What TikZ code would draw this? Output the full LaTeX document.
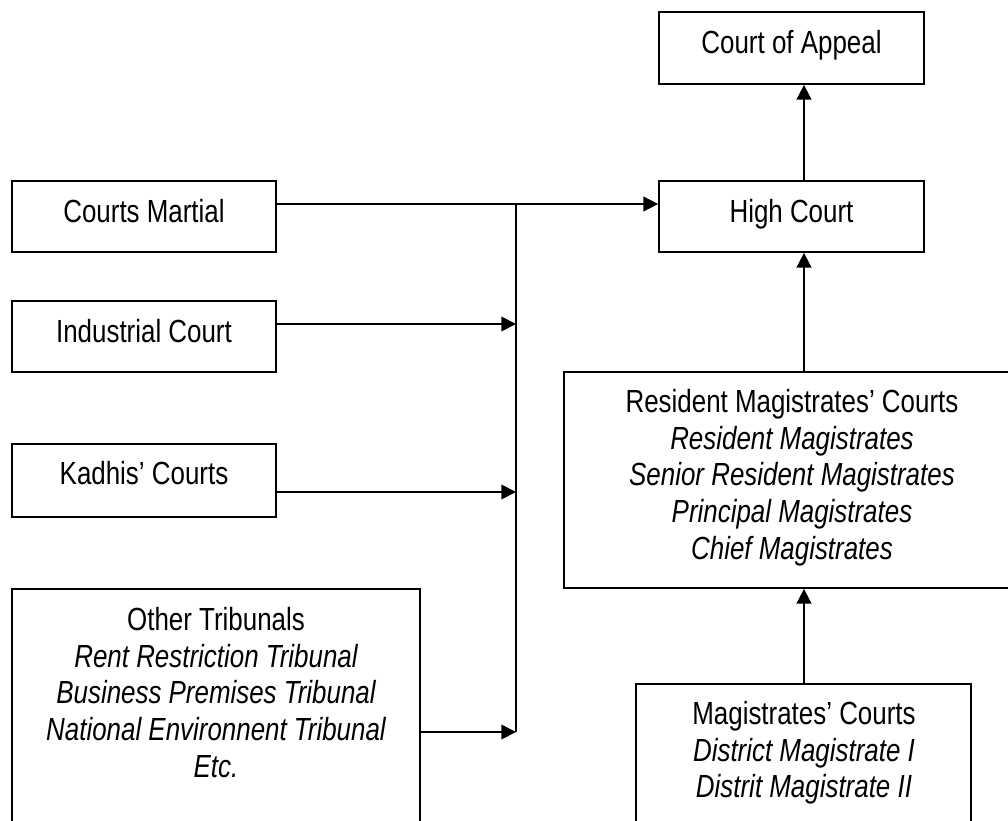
\documentclass[tikz,border=0pt]{standalone}
\usepackage{fontspec}
\setmainfont{Liberation Sans}[FakeStretch=0.81]
\usetikzlibrary{arrows.meta,fit}
\begin{document}
\begin{tikzpicture}[x=0.75pt,y=-0.75pt,
  box/.style={draw, line width=1.3pt, inner sep=0pt, rectangle},
  txt/.style={inner sep=0pt, anchor=base, font=\fontsize{24}{27.5}\selectfont},
  itx/.style={txt, font=\fontsize{24}{27.5}\selectfont\itshape},
  conn/.style={line width=1.3pt},
  arr/.style={conn, -{Triangle[length=11pt,width=11pt]}}]
\useasboundingbox (0,0) rectangle (1008,821);
% boxes
\node[box, fit={(659,12) (924,84)}] (ca) {};
\node[box, fit={(659,181) (924,252)}] (hc) {};
\node[box, fit={(12,181) (276,252)}] (cm) {};
\node[box, fit={(12,301) (276,372)}] (ic) {};
\node[box, fit={(12,444) (276,517)}] (kc) {};
\node[box, fit={(12,589) (420,850)}] (ot) {};
\node[box, fit={(564,372) (1020,588)}] (rm) {};
\node[box, fit={(636,684) (971,850)}] (mc) {};
% texts
\node[txt] (tca) at (791.5,53) {Court of Appeal};
\node[txt] (thc) at (791.5,222) {High Court};
\node[txt] (tcm) at (144,222) {Courts Martial};
\node[txt] (tic) at (144,342) {Industrial Court};
\node[txt] (tkc) at (144,484) {Kadhis’ Courts};
\node[txt] (tot1) at (216,630) {Other Tribunals};
\node[itx] (tot2) at (216,667) {Rent Restriction Tribunal};
\node[itx] (tot3) at (216,703) {Business Premises Tribunal};
\node[itx] (tot4) at (216,740) {National Environnent Tribunal};
\node[itx] (tot5) at (216,777) {Etc.};
\node[txt] (trm1) at (792,412) {Resident Magistrates’ Courts};
\node[itx] (trm2) at (792,449) {Resident Magistrates};
\node[itx] (trm3) at (792,485) {Senior Resident Magistrates};
\node[itx] (trm4) at (792,522) {Principal Magistrates};
\node[itx] (trm5) at (792,559) {Chief Magistrates};
\node[txt] (tmc1) at (804,724) {Magistrates’ Courts};
\node[itx] (tmc2) at (804,761) {District Magistrate I};
\node[itx] (tmc3) at (804,797) {Distrit Magistrate II};
% connector coordinates
\coordinate (j1) at (516,204);
\coordinate (j2) at (516,732);
\coordinate (yi) at (0,324);
\coordinate (yk) at (0,492);
\coordinate (xa) at (804,0);
% connectors
\draw[arr] (cm.east |- j1) -- (hc.west |- j1);
\draw[conn] (j1) -- (j2);
\draw[arr] (ic.east |- yi) -- (j1 |- yi);
\draw[arr] (kc.east |- yk) -- (j1 |- yk);
\draw[arr] (ot.east |- j2) -- (j2);
\draw[arr] (hc.north -| xa) -- (ca.south -| xa);
\draw[arr] (rm.north -| xa) -- (hc.south -| xa);
\draw[arr] (mc.north -| xa) -- (rm.south -| xa);
\end{tikzpicture}
\end{document}
